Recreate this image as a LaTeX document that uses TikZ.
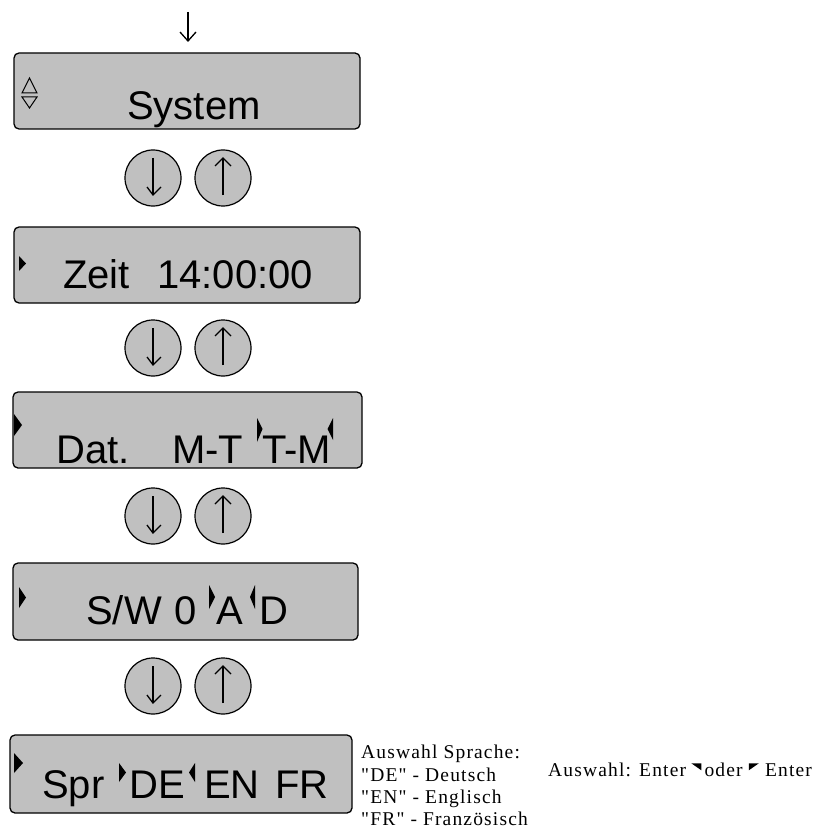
\documentclass[tikz,border=0pt]{standalone}
\usepackage{fontspec}
\usetikzlibrary{calc}
\setmainfont{Liberation Sans}
\newfontfamily\serifnote[LetterSpace=6]{Liberation Serif}
\definecolor{boxgray}{HTML}{C0C0C0}
\begin{document}
\begin{tikzpicture}[x=1pt,y=-1pt,
  disp/.style={draw=black,line width=1.3pt,fill=boxgray,rounded corners=5pt},
  key/.style={circle,draw=black,line width=1.2pt,fill=boxgray,minimum size=56pt,inner sep=0pt},
  lcd/.style={inner sep=0pt,anchor=base west,font=\fontsize{40}{48}\selectfont},
  note/.style={inner sep=0pt,anchor=base west,font=\serifnote\fontsize{19.5}{23}\selectfont},
  arr/.style={line width=1.3pt},
  blk/.style={fill=black,draw=none}]
\useasboundingbox (0,0) rectangle (822,829);
\fill[white] (0,0) rectangle (822,829);

% entry arrow
\coordinate (entryA) at (188,12);
\coordinate (entryB) at (188,41);
\draw[arr] (entryA) -- (entryB);
\draw[arr] (180,32) -- (entryB) -- (196,32);

% displays
\draw[disp] (14,53) rectangle (360,129);
\draw[disp] (14,227) rectangle (360,303);
\draw[disp] (13,392) rectangle (362,468);
\draw[disp] (13,563) rectangle (358,640);
\draw[disp] (10,735) rectangle (352,813);

% box 1
\draw[line width=1pt] (22,93) -- (29.5,78) -- (37,93) -- cycle;
\draw[line width=1pt] (22,97) -- (29.5,108) -- (37,97) -- cycle;
\node[lcd] (sys) at (127,120) {System};

% box 2
\fill[blk] (19,256) -- (26,263.5) -- (19,271) -- cycle;
\node[lcd] (zeit) at (63,288) {Zeit};
\node[lcd] (uhr) at (157,288) {14:00:00};

% box 3
\fill[blk] (14,414) -- (22,425) -- (14,436) -- cycle;
\node[lcd] (dat) at (56,463) {Dat.};
\node[lcd] (mt) at (172,463) {M-T};
\node[lcd] (tm) at (262,463) {T-M};
\fill[blk] (257,418) -- (262.5,429) -- (257,442) -- cycle;
\fill[blk] (333,418) -- (327.5,429) -- (333,440) -- cycle;

% box 4
\fill[blk] (19,587) -- (26,597.5) -- (19,608) -- cycle;
\node[lcd] (sw) at (86,624) {S/W};
\node[lcd] (null) at (174,624) {0};
\node[lcd] (auto) at (216,624) {A};
\node[lcd] (dauer) at (259,624) {D};
\fill[blk] (209,585) -- (215,597) -- (209,609) -- cycle;
\fill[blk] (255,585) -- (250,597) -- (255,609) -- cycle;

% box 5
\fill[blk] (14,753) -- (23,763) -- (14,773) -- cycle;
\node[lcd] (spr) at (42,798) {Spr};
\node[lcd] (de) at (129,798) {DE};
\node[lcd] (en) at (204,798) {EN};
\node[lcd] (fr) at (275,798) {FR};
\fill[blk] (119,763) -- (126,772.5) -- (119,782) -- cycle;
\fill[blk] (195,763) -- (189,772.5) -- (195,782) -- cycle;

% keys
\foreach \cy/\n in {178/a,348/b,516/c,686/d}{
  \node[key] (dn\n) at (153,\cy) {};
  \node[key] (up\n) at (223,\cy) {};
  \draw[arr] ($(dn\n)+(0,-20)$) -- ($(dn\n)+(0,17)$);
  \draw[arr] ($(dn\n)+(-6,9)$) -- ($(dn\n)+(0,17)$) -- ($(dn\n)+(8,9)$);
  \draw[arr] ($(up\n)+(0,17)$) -- ($(up\n)+(0,-20)$);
  \draw[arr] ($(up\n)+(-8,-12)$) -- ($(up\n)+(0,-20)$) -- ($(up\n)+(8,-12)$);
}

% notes
\node[note] (n1) at (361,758) {Auswahl Sprache:};
\node[note] (n2) at (361,781) {"DE" - Deutsch};
\node[note] (n3) at (361,803) {"EN" - Englisch};
\node[note] (n4) at (361,825) {"FR" - Französisch};
\node[note] (enter1) at (548,776) {Auswahl: Enter};
\node[note,anchor=base west] (oder) at ([xshift=18pt]enter1.base east) {oder};
\node[note,anchor=base west] (enter2) at ([xshift=22pt]oder.base east) {Enter};
\fill[blk] ([xshift=5pt,yshift=-1pt]enter1.north east) -- ++(10,0) -- ++(0,7) -- cycle;
\fill[blk] ([xshift=6pt,yshift=-1pt]oder.north east) -- ++(10,0) -- ++(-10,7) -- cycle;
\end{tikzpicture}
\end{document}
